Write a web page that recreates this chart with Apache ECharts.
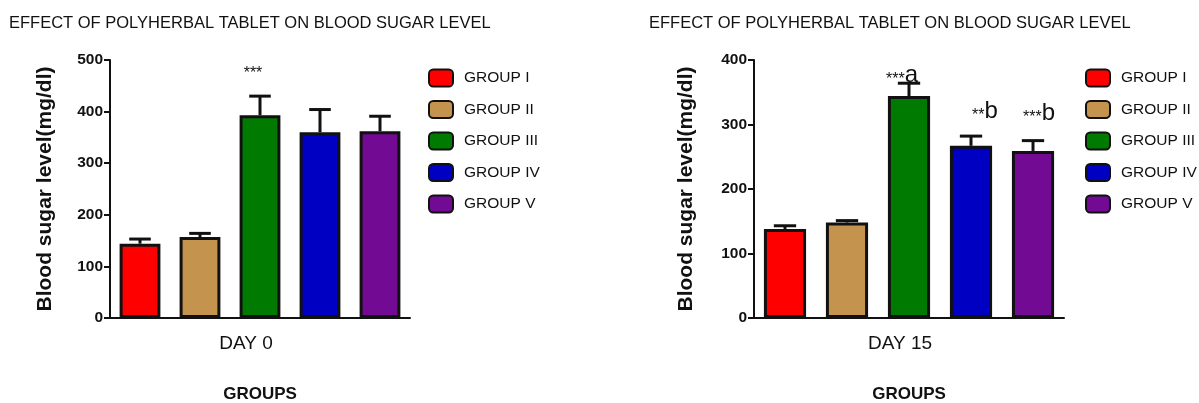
<!DOCTYPE html>
<html>
<head>
<meta charset="utf-8">
<script src="https://cdn.jsdelivr.net/npm/echarts@6/dist/echarts.min.js"></script>
<style>
  html, body { margin: 0; padding: 0; background: #fff; }
  #chart { width: 1199px; height: 403px; }
</style>
</head>
<body>
<div id="chart"></div>
<script>
var groups = ['GROUP I', 'GROUP II', 'GROUP III', 'GROUP IV', 'GROUP V'];
var titleText = 'EFFECT OF POLYHERBAL TABLET ON BLOOD SUGAR LEVEL';
var yName = 'Blood sugar level(mg/dl)';

// day 0
var day0Label = 'DAY 0';
var day0Mean = [144, 157, 393, 360, 362];
var day0Err = [9, 7, 37, 44, 29];
var day0Marks = ['', '', '***', '', ''];
var day0Max = 500;

// day 15
var day15Label = 'DAY 15';
var day15Mean = [138, 148, 344, 267, 259];
var day15Err = [5, 3, 20, 15, 16];
var day15Marks = ['', '', '***a', '**b', '***b'];
var day15Max = 400;

var colors = ['#ff0000', '#c4944f', '#007a00', '#0000c2', '#730a94'];
var font = '"Liberation Sans", Arial, sans-serif';
var ink = '#111';

var chart = echarts.init(document.getElementById('chart'));

// one panel = grid + axes + 5 bar series + error bars + legend
function panel(idx, opt, label, mean, err, marks, yMax) {
  var series = groups.map(function (g, i) {
    return {
      name: g,
      type: 'bar',
      xAxisIndex: idx * 2,
      yAxisIndex: idx,
      barGap: '-100%',
      barWidth: '68%',
      itemStyle: { color: colors[i], borderColor: ink, borderWidth: 3 },
      data: mean.map(function (v, j) { return j === i ? v : '-'; })
    };
  });
  series.push({
    type: 'custom',
    xAxisIndex: idx * 2,
    yAxisIndex: idx,
    z: 5,
    silent: true,
    data: mean.map(function (v, i) { return [i, v, v + err[i]]; }),
    renderItem: function (params, api) {
      var i = api.value(0);
      var top = api.coord([i, api.value(1)]);
      var hi = api.coord([i, api.value(2)]);
      var half = api.size([1, 0])[0] * 0.18;
      var kids = [
        { type: 'line', shape: { x1: top[0], y1: top[1], x2: hi[0], y2: hi[1] },
          style: { stroke: ink, lineWidth: 3 } },
        { type: 'line', shape: { x1: hi[0] - half, y1: hi[1], x2: hi[0] + half, y2: hi[1] },
          style: { stroke: ink, lineWidth: 3 } }
      ];
      var m = marks[i];
      if (m) {
        var stars = m.replace(/[a-z]/g, '');
        var letter = m.replace(/\*/g, '');
        kids.push({
          type: 'text',
          x: hi[0] + opt.markShift[i][0],
          y: hi[1] - opt.markShift[i][1],
          style: {
            text: '{s|' + stars + '}' + (letter ? '{l|' + letter + '}' : ''),
            align: 'center',
            verticalAlign: 'bottom',
            rich: {
              s: { fontFamily: font, fontSize: 16, fill: ink, verticalAlign: 'bottom' },
              l: { fontFamily: font, fontSize: 24, fill: ink, verticalAlign: 'bottom' }
            }
          }
        });
      }
      return { type: 'group', children: kids };
    }
  });

  return {
    grid: opt.grid,
    xAxes: [{
      type: 'category',
      gridIndex: idx,
      data: groups,
      name: label,
      nameLocation: 'middle',
      nameGap: 16.5,
      nameTextStyle: { fontFamily: font, fontSize: 19, color: ink, verticalAlign: 'top', padding: [0, opt.dayPad, 0, 0] },
      axisLine: { lineStyle: { color: ink, width: 2 } },
      axisTick: { alignWithLabel: true, length: 6, lineStyle: { color: ink, width: 2 } },
      axisLabel: { show: false }
    }, {
      type: 'category',
      gridIndex: idx,
      data: groups,
      position: 'bottom',
      name: 'GROUPS',
      nameLocation: 'middle',
      nameGap: 67.5,
      nameTextStyle: { fontFamily: font, fontSize: 17, fontWeight: 'bold', color: ink, verticalAlign: 'top' },
      axisLine: { show: false },
      axisTick: { show: false },
      axisLabel: { show: false }
    }],
    yAxis: {
      type: 'value',
      gridIndex: idx,
      min: 0,
      max: yMax,
      interval: 100,
      name: yName,
      nameLocation: 'middle',
      nameGap: opt.yNameGap,
      nameTextStyle: { fontFamily: font, fontSize: 21, fontWeight: 'bold', color: ink },
      axisLine: { show: true, lineStyle: { color: ink, width: 2 } },
      axisTick: { show: true, length: 6, lineStyle: { color: ink, width: 2 } },
      axisLabel: { fontFamily: font, fontSize: 15.5, fontWeight: 'bold', color: ink, margin: 7 },
      splitLine: { show: false }
    },
    legend: {
      orient: 'vertical',
      left: opt.legendLeft,
      top: 68.5,
      padding: 0,
      itemWidth: 24,
      itemHeight: 17,
      itemGap: 12.5,
      icon: 'roundRect',
      data: groups,
      textStyle: { fontFamily: font, fontSize: 15.5, color: ink, padding: [0, 0, 0, 6] }
    },
    title: {
      text: titleText,
      left: opt.titleLeft,
      top: 15,
      padding: 0,
      textStyle: { fontFamily: font, fontSize: 16.5, fontWeight: 'normal', color: ink }
    },
    series: series
  };
}

var p0 = panel(0, {
  grid: { left: 110, top: 60, width: 300, height: 258, outerBoundsMode: 'none' },
  legendLeft: 428, titleLeft: 9, yNameGap: 54.5, dayPad: 28,
  markShift: [[0, 0], [0, 0], [-7, 15], [0, 0], [0, 0]]
}, day0Label, day0Mean, day0Err, day0Marks, day0Max);

var p1 = panel(1, {
  grid: { left: 754, top: 60, width: 310, height: 258, outerBoundsMode: 'none' },
  legendLeft: 1085, titleLeft: 649, yNameGap: 57.5, dayPad: 18,
  markShift: [[0, 0], [0, 0], [-7, -4], [14, 13], [6, 15]]
}, day15Label, day15Mean, day15Err, day15Marks, day15Max);

chart.setOption({
  animation: false,
  textStyle: { fontFamily: font },
  title: [p0.title, p1.title],
  grid: [p0.grid, p1.grid],
  xAxis: p0.xAxes.concat(p1.xAxes),
  yAxis: [p0.yAxis, p1.yAxis],
  legend: [p0.legend, p1.legend],
  series: p0.series.concat(p1.series)
});
</script>
</body>
</html>
